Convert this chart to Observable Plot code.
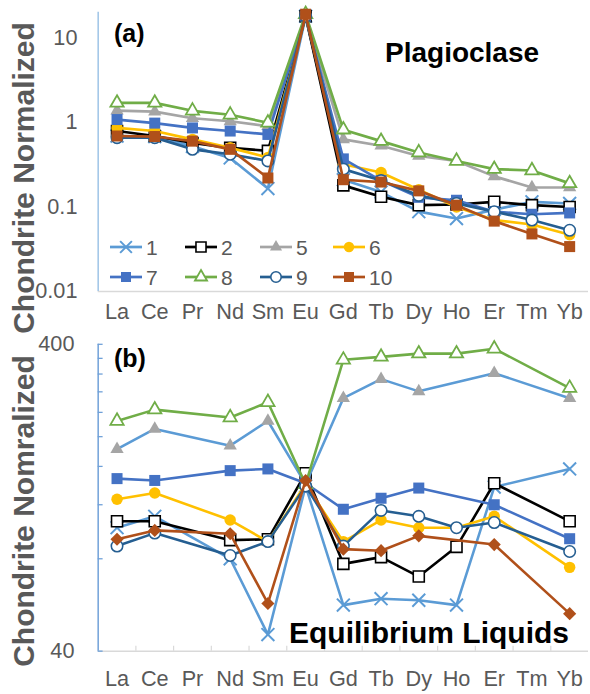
<!DOCTYPE html>
<html><head><meta charset="utf-8">
<script src="https://cdn.jsdelivr.net/npm/d3@7"></script>
<script src="https://cdn.jsdelivr.net/npm/@observablehq/plot@0.6"></script>
<style>
html,body{margin:0;padding:0;overflow:hidden;background:#fff;}
#wrap{position:relative;width:590px;height:694px;overflow:hidden;}
#wrap > svg{position:absolute;left:0;}
</style></head><body><div id="wrap"></div>
<script>
// ---------------- DATA ----------------
const elements = ["La","Ce","Pr","Nd","Sm","Eu","Gd","Tb","Dy","Ho","Er","Tm","Yb"];
const seriesNames = ["1","2","5","6","7","8","9","10"];

// (a) Plagioclase, chondrite normalized
const plag1  = [0.69, 0.68, 0.52, 0.38, 0.165, 18, 0.21, 0.15, 0.088, 0.073, 0.093, 0.115, 0.11];
const plag2  = [0.79, 0.69, 0.57, 0.50, 0.46, 18, 0.18, 0.132, 0.105, 0.107, 0.115, 0.105, 0.10];
const plag5  = [1.38, 1.34, 1.12, 1.03, 0.90, 18, 0.63, 0.53, 0.40, 0.35, 0.23, 0.17, 0.17];
const plag6  = [0.86, 0.79, 0.63, 0.50, 0.385, 18, 0.32, 0.255, 0.16, 0.10, 0.07, 0.062, 0.047];
const plag7  = [1.08, 0.98, 0.86, 0.79, 0.72, 18, 0.37, 0.205, 0.13, 0.12, 0.088, 0.082, 0.085];
const plag8  = [1.70, 1.70, 1.37, 1.23, 0.99, 19, 0.82, 0.60, 0.44, 0.35, 0.28, 0.27, 0.19];
const plag9  = [0.66, 0.66, 0.48, 0.42, 0.35, 18, 0.28, 0.205, 0.137, 0.11, 0.088, 0.07, 0.053];
const plag10 = [0.69, 0.68, 0.60, 0.48, 0.22, 19, 0.21, 0.197, 0.155, 0.105, 0.068, 0.048, 0.034];

// (b) Equilibrium liquids, chondrite normalized (null = not reported)
const liq1  = [101, 110, null, 80, 45.3, 138, 56.5, 59.3, 58.6, 56.5, 137, null, 157];
const liq2  = [106, 106, null, 92, 92.6, 152, 77, 81, 70, 87.5, 141, null, 106];
const liq5  = [182, 212, null, 187, 225, 140, 267, 308, 281, null, 322, null, 267];
const liq6  = [125, 131, null, 107, 91, 140, 91, 107, 101, 101, 110, null, 75];
const liq7  = [146, 144, null, 155, 157, 141, 116, 126, 136, null, 120, null, 93];
const liq8  = [225, 245, null, 231, 259, 140, 356, 364, 373, 373, 387, null, 288];
const liq9  = [88, 97, null, 82, 91, 138, 88, 115, 110, 101, 105, null, 84.5];
const liq10 = [92.6, 99, null, 96.5, 57.2, 144, 86, 85, 95, null, 89, null, 53];

const yTicksA = [0.01, 0.1, 1, 10];
const yLabelsB = [40, 400];
const yMinorB = [40, 80, 120, 160, 200, 240, 280, 320, 360, 400];

// ---------------- STYLES ----------------
const FONT = '"Liberation Sans", Arial, sans-serif';
const colors = {"1":"#5b9bd5","2":"#000000","5":"#a5a5a5","6":"#ffc000","7":"#4472c4","8":"#70ad47","9":"#255e91","10":"#b0501a"};
const lineColorsA = colors;
const lineColorsB = Object.assign({}, colors, {"5": "#5b9bd5"});
const symbolsA = {"1":"times","2":"square","5":"triangle","6":"circle","7":"square","8":"triangle","9":"circle","10":"square"};
const symbolsB = Object.assign({}, symbolsA, {"10": "diamond2"});
const symSize = {times: 6, square: 6.3, triangle: 5, circle: 5.8, diamond2: 6};
const dotStyle = {
  "1": {fill: "none", stroke: colors["1"], strokeWidth: 2},
  "2": {fill: "white", stroke: colors["2"], strokeWidth: 1.6},
  "5": {fill: colors["5"], stroke: "none", strokeWidth: 0},
  "6": {fill: colors["6"], stroke: "none", strokeWidth: 0},
  "7": {fill: colors["7"], stroke: "none", strokeWidth: 0},
  "8": {fill: "white", stroke: colors["8"], strokeWidth: 1.8},
  "9": {fill: "white", stroke: colors["9"], strokeWidth: 1.6},
  "10": {fill: colors["10"], stroke: "none", strokeWidth: 0}
};

function toRows(arrays) {
  return arrays.flatMap((vals, s) =>
    vals.map((v, i) => ({series: seriesNames[s], el: elements[i], idx: i, v}))
        .filter(d => d.v != null));
}
const rowsA = toRows([plag1, plag2, plag5, plag6, plag7, plag8, plag9, plag10]);
const rowsB = toRows([liq1, liq2, liq5, liq6, liq7, liq8, liq9, liq10]);
const xOf = d => d.idx + 0.5;
const xTicks = elements.map((_, i) => i + 0.5);

function seriesMarks(rows, symbols, lineColors, lw) {
  return seriesNames.flatMap(s => {
    const d = rows.filter(r => r.series === s);
    const st = dotStyle[s];
    return [
      Plot.line(d, {x: xOf, y: "v", stroke: lineColors[s], strokeWidth: lw}),
      Plot.dot(d, {x: xOf, y: "v", symbol: symbols[s], r: symSize[symbols[s]],
        fill: st.fill, stroke: st.stroke, strokeWidth: st.strokeWidth})
    ];
  });
}

const wrap = document.getElementById("wrap");

// ---------------- PANEL (a) ----------------
const chartA = Plot.plot({
  width: 598, height: 330,
  marginLeft: 99, marginRight: 2, marginTop: 12, marginBottom: 35,
  style: {background: "none", fontFamily: FONT, color: "#595959", overflow: "visible"},
  x: {type: "linear", domain: [0, 13]},
  y: {type: "log", domain: [0.01, 20]},
  marks: [
    Plot.ruleY([0.01], {stroke: "#d9d9d9", strokeWidth: 1.5}),
    Plot.ruleX([0], {stroke: "#9dc3e6", strokeWidth: 1.5}),
    Plot.axisX(xTicks, {tickFormat: d => elements[Math.floor(d)], tickSize: 0, tickPadding: 12, fontSize: 22, label: null}),
    Plot.axisY(yTicksA, {tickFormat: d => String(d), tickSize: 0, tickPadding: 21, fontSize: 22, label: null}),
    ...seriesMarks(rowsA, symbolsA, lineColorsA, 2.7)
  ]
});
chartA.style.top = "0px";
wrap.appendChild(chartA);

// ---------------- PANEL (b) ----------------
const chartB = Plot.plot({
  width: 598, height: 364,
  marginLeft: 99, marginRight: 2, marginTop: 14, marginBottom: 39,
  style: {background: "none", fontFamily: FONT, color: "#595959", overflow: "visible"},
  x: {type: "linear", domain: [0, 13]},
  y: {type: "log", domain: [40, 400]},
  marks: [
    Plot.ruleY([40], {stroke: "#d9d9d9", strokeWidth: 1.5}),
    Plot.tickX(d3.range(1, 13), {x: d => d, stroke: "#d9d9d9", strokeWidth: 1.2, insetTop: 306}),
    Plot.ruleX([0], {stroke: "#6fa0d8", strokeWidth: 1.5}),
    Plot.tickY(yMinorB, {y: d => d, stroke: "#6fa0d8", strokeWidth: 1.3, insetRight: 492}),
    Plot.axisX(xTicks, {tickFormat: d => elements[Math.floor(d)], tickSize: 0, tickPadding: 20, fontSize: 22, label: null}),
    Plot.axisY(yLabelsB, {tickFormat: d => String(d), tickSize: 0, tickPadding: 24, fontSize: 22, label: null}),
    ...seriesMarks(rowsB, symbolsB, lineColorsB, 2.6)
  ]
});
chartB.style.top = "330px";
wrap.appendChild(chartB);

// ---------------- TEXT & LEGEND OVERLAY ----------------
const ov = d3.create("svg").attr("width", 590).attr("height", 694)
  .style("top", "0px").style("font-family", FONT);

ov.append("text").attr("transform", "translate(34,178) rotate(-90)")
  .attr("text-anchor", "middle").attr("font-size", 30).attr("font-weight", "bold")
  .attr("fill", "#595959").text("Chondrite Normalized");
ov.append("text").attr("transform", "translate(34,511) rotate(-90)")
  .attr("text-anchor", "middle").attr("font-size", 30).attr("font-weight", "bold")
  .attr("fill", "#595959").text("Chondrite Nomralized");

ov.append("text").attr("x", 114).attr("y", 42).attr("font-size", 25).attr("font-weight", "bold").attr("fill", "#000").text("(a)");
ov.append("text").attr("x", 114).attr("y", 367).attr("font-size", 25).attr("font-weight", "bold").attr("fill", "#000").text("(b)");
ov.append("text").attr("x", 385).attr("y", 62).attr("font-size", 28).attr("font-weight", "bold").attr("fill", "#000").text("Plagioclase");
ov.append("text").attr("x", 289).attr("y", 643).attr("font-size", 30).attr("font-weight", "bold").attr("fill", "#000").text("Equilibrium Liquids");

const d3sym = {times: d3.symbolTimes, square: d3.symbolSquare, triangle: d3.symbolTriangle, circle: d3.symbolCircle, diamond2: d3.symbolDiamond2};
const legCols = [110, 185, 260, 333];
const legRows = [247, 277];
seriesNames.forEach((s, k) => {
  const x0 = legCols[k % 4], y0 = legRows[Math.floor(k / 4)];
  const g = ov.append("g");
  g.append("line").attr("x1", x0).attr("x2", x0 + 32).attr("y1", y0).attr("y2", y0)
    .attr("stroke", lineColorsA[s]).attr("stroke-width", 2.7);
  const st = dotStyle[s];
  const r = symSize[symbolsA[s]] * 0.9;
  g.append("path").attr("transform", `translate(${x0 + 16},${y0})`)
    .attr("d", d3.symbol(d3sym[symbolsA[s]], r * r * Math.PI)())
    .attr("fill", st.fill).attr("stroke", st.stroke).attr("stroke-width", st.strokeWidth);
  g.append("text").attr("x", x0 + 36).attr("y", y0).attr("dy", "0.36em")
    .attr("font-size", 21).attr("fill", "#595959").text(s);
});
wrap.appendChild(ov.node());
</script>
</body></html>
